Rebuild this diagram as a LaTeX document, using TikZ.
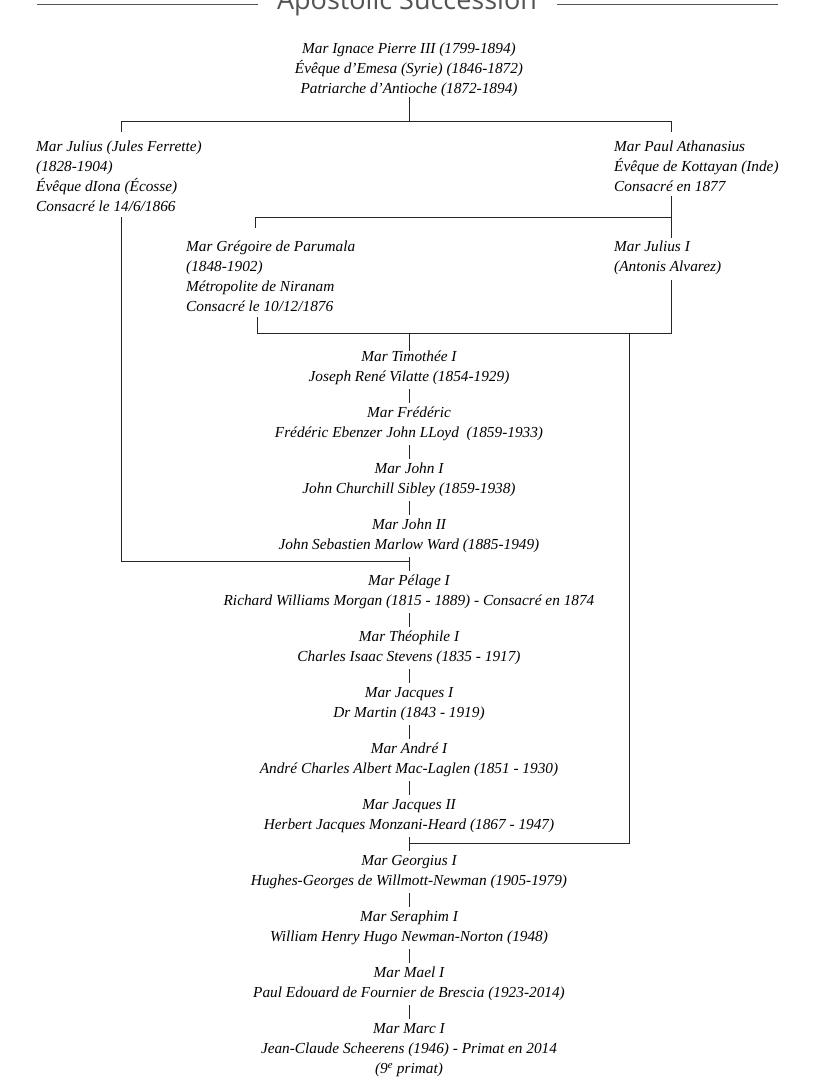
\documentclass[tikz,border=0pt]{standalone}
\usepackage{fontspec}
\setmainfont{Liberation Serif}
\newfontfamily\titlefont{Open Sans}
\usepackage{xcolor}
\definecolor{titlegray}{rgb}{0.33, 0.33, 0.33}

\begin{document}
\begin{tikzpicture}[x=1pt,y=-1pt]
	\tikzstyle{person} = [inner sep=0pt,font=\fontsize{15.3}{20}\selectfont\itshape]
	\tikzstyle{edge} = [-,line width=1pt,color=black!85]
	\tikzstyle{link} = [edge,shorten <=4pt,shorten >=4pt]
	\useasboundingbox (0,0) rectangle (814,1085);
	% title
	\node[font=\titlefont\fontsize{27}{30}\selectfont,text=titlegray,anchor=base] (title) at (407,9) {Apostolic Succession};
	\coordinate (tl1) at (37,4);
	\coordinate (tl2) at (258,4);
	\coordinate (tr1) at (557,4);
	\coordinate (tr2) at (778,4);
	\draw[titlegray,line width=0.8pt] (tl1) -- (tl2);
	\draw[titlegray,line width=0.8pt] (tr1) -- (tr2);
	% upper branches
	\node[person,align=center] (ignace) at (409,70) {Mar Ignace Pierre III (1799-1894)\\\'Ev\^eque d'Emesa (Syrie) (1846-1872)\\Patriarche d'Antioche (1872-1894)};
	\node[person,align=left,anchor=west] (julius) at (36,176) {Mar Julius (Jules Ferrette)\\(1828-1904)\\\'Ev\^eque dIona (\'Ecosse)\\Consacr\'e le 14/6/1866};
	\node[person,align=left,anchor=west] (paul) at (614,166) {Mar Paul Athanasius\\\'Ev\^eque de Kottayan (Inde)\\Consacr\'e en 1877};
	\node[person,align=left,anchor=west] (gregoire) at (186,276) {Mar Gr\'egoire de Parumala\\(1848-1902)\\M\'etropolite de Niranam\\Consacr\'e le 10/12/1876};
	\node[person,align=left,anchor=west] (julius1) at (614,258) {Mar Julius I\\(Antonis Alvarez)};
	% main line
	\node[person,align=center] (timothee) at (409,368) {Mar Timoth\'ee I\\Joseph Ren\'e Vilatte (1854-1929)};
	\node[person,align=center] (frederic) at (409,424) {Mar Fr\'ed\'eric\\Fr\'ed\'eric Ebenzer John LLoyd\ \ (1859-1933)};
	\node[person,align=center] (john1) at (409,480) {Mar John I\\John Churchill Sibley (1859-1938)};
	\node[person,align=center] (john2) at (409,536) {Mar John II\\John Sebastien Marlow Ward (1885-1949)};
	\node[person,align=center] (pelage) at (409,592) {Mar P\'elage I\\Richard Williams Morgan (1815 - 1889) - Consacr\'e en 1874};
	\node[person,align=center] (theophile) at (409,648) {Mar Th\'eophile I\\Charles Isaac Stevens (1835 - 1917)};
	\node[person,align=center] (jacques1) at (409,704) {Mar Jacques I\\Dr Martin (1843 - 1919)};
	\node[person,align=center] (andre) at (409,760) {Mar Andr\'e I\\Andr\'e Charles Albert Mac-Laglen (1851 - 1930)};
	\node[person,align=center] (jacques2) at (409,816) {Mar Jacques II\\Herbert Jacques Monzani-Heard (1867 - 1947)};
	\node[person,align=center] (georgius) at (409,872) {Mar Georgius I\\Hughes-Georges de Willmott-Newman (1905-1979)};
	\node[person,align=center] (seraphim) at (409,928) {Mar Seraphim I\\William Henry Hugo Newman-Norton (1948)};
	\node[person,align=center] (mael) at (409,984) {Mar Mael I\\Paul Edouard de Fournier de Brescia (1923-2014)};
	\node[person,align=center] (marc) at (409,1050) {Mar Marc I\\Jean-Claude Scheerens (1946) - Primat en 2014\\(9\textsuperscript{e} primat)};
	% junctions
	\coordinate (jtop) at (121,132);
	\coordinate (ptop) at (671,132);
	\coordinate (jbot) at (121,217);
	\coordinate (pbot) at (671,196);
	\coordinate (gtop) at (255,228);
	\coordinate (j1top) at (671,238);
	\coordinate (gbot) at (257,317);
	\coordinate (j1bot) at (671,280);
	\coordinate (m1) at (409,333);
	\coordinate (m2) at (409,561);
	\coordinate (m3) at (409,843);
	\draw[edge] (ignace) -- (409,121);
	\draw[edge] (jtop) -- (121,121) -| (ptop);
	\draw[edge] (pbot) -- (j1top);
	\draw[edge] (gtop) |- (671,217);
	\draw[edge] (gbot) |- (671,333) -- (j1bot);
	\draw[edge] (m1) -- (timothee);
	\draw[edge] (jbot) |- (m2);
	\draw[edge] (629,333) |- (m3);
	\draw[link] (timothee) -- (frederic);
	\draw[link] (frederic) -- (john1);
	\draw[link] (john1) -- (john2);
	\draw[link] (john2) -- (pelage);
	\draw[link] (pelage) -- (theophile);
	\draw[link] (theophile) -- (jacques1);
	\draw[link] (jacques1) -- (andre);
	\draw[link] (andre) -- (jacques2);
	\draw[link] (jacques2) -- (georgius);
	\draw[link] (georgius) -- (seraphim);
	\draw[link] (seraphim) -- (mael);
	\draw[link] (mael) -- (marc);
\end{tikzpicture}
\end{document}
